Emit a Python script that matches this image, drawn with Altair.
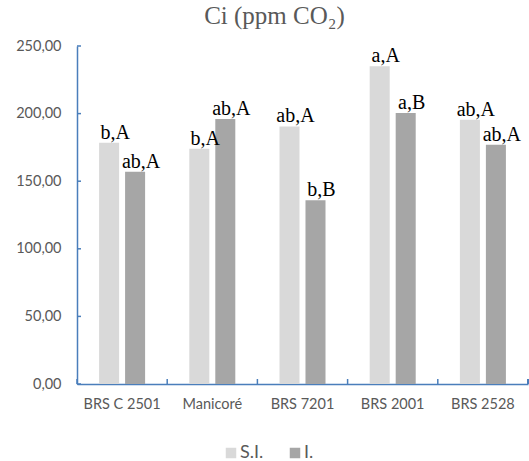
import altair as alt
import pandas as pd

# Cultivars, treatments and mean internal CO2 concentration (ppm)
cultivars = ["BRS C 2501", "Manicoré", "BRS 7201", "BRS 2001", "BRS 2528"]
treatments = ["S.I.", "I."]
ci_si = [178.5, 174.0, 190.5, 235.0, 195.5]
ci_i = [157.0, 196.0, 136.0, 200.5, 177.0]
letters_si = ["b,A", "b,A", "ab,A", "a,A", "ab,A"]
letters_i = ["ab,A", "ab,A", "b,B", "a,B", "ab,A"]
y_ticks = [0, 50, 100, 150, 200, 250]

rows = []
for c, v, l in zip(cultivars, ci_si, letters_si):
    rows.append({"cultivar": c, "trat": "S.I.", "ci": v, "letra": l})
for c, v, l in zip(cultivars, ci_i, letters_i):
    rows.append({"cultivar": c, "trat": "I.", "ci": v, "letra": l})
df = pd.DataFrame(rows)
ticks_df = pd.DataFrame({"v": y_ticks})

W, H = 451, 338
AXIS_BLUE = "#4A7EBB"
GRAY_TXT = "#595959"

x_enc = alt.X("cultivar:N", sort=cultivars, title=None,
              scale=alt.Scale(paddingInner=0, paddingOuter=0),
              axis=alt.Axis(labelAngle=0, domainColor=AXIS_BLUE, domainWidth=1.5,
                            ticks=False, labelColor=GRAY_TXT, labelFont="Lato",
                            labelFontSize=14.5, labelPadding=13))
xoff = alt.XOffset("trat:N", sort=treatments,
                   scale=alt.Scale(paddingInner=0.23, paddingOuter=0.85))
y_scale = alt.Scale(domain=[0, 250], nice=False)

bars = alt.Chart(df).mark_bar().encode(
    x=x_enc,
    xOffset=xoff,
    y=alt.Y("ci:Q", scale=y_scale, title=None,
            axis=alt.Axis(values=y_ticks, domainColor=AXIS_BLUE, domainWidth=1.5,
                          ticks=False, grid=False, labelColor=GRAY_TXT,
                          labelFont="Lato", labelFontSize=14.5, labelPadding=16,
                          labelExpr="replace(format(datum.value, '.2f'), '.', ',')")),
    color=alt.Color("trat:N", sort=treatments, title=None,
                    scale=alt.Scale(domain=treatments, range=["#D9D9D9", "#A6A6A6"]),
                    legend=alt.Legend(orient="none", legendX=145, legendY=398,
                                      direction="horizontal", symbolType="square",
                                      symbolSize=110, symbolStrokeWidth=0,
                                      labelFont="Lato", labelFontSize=18,
                                      labelColor=GRAY_TXT, columnPadding=22,
                                      labelOffset=0)),
)

labels = alt.Chart(df).mark_text(
    font="Liberation Serif", fontSize=20, color="black",
    baseline="alphabetic", dy=-4, dx=6,
).encode(
    x=alt.X("cultivar:N", sort=cultivars),
    xOffset=xoff,
    y=alt.Y("ci:Q", scale=y_scale),
    text="letra:N",
)

# inward tick marks on the value axis
y_tick_marks = alt.Chart(ticks_df).mark_rule(color=AXIS_BLUE, strokeWidth=1.5).encode(
    y=alt.Y("v:Q", scale=y_scale),
    x=alt.value(0),
    x2=alt.value(4),
)

# inward tick marks at category boundaries
cat_df = pd.DataFrame({"cultivar": cultivars})
x_tick_marks = alt.Chart(cat_df).mark_rule(color=AXIS_BLUE, strokeWidth=1.5).encode(
    x=alt.X("cultivar:N", sort=cultivars, bandPosition=0),
    y=alt.value(H - 5),
    y2=alt.value(H),
)
x_end_tick = alt.Chart(cat_df).mark_rule(color=AXIS_BLUE, strokeWidth=1.5).encode(
    x=alt.value(W),
    y=alt.value(H - 5),
    y2=alt.value(H),
)

chart = alt.layer(bars, labels, y_tick_marks, x_tick_marks, x_end_tick).properties(
    width=W,
    height=H,
    title=alt.TitleParams("Ci (ppm CO₂)", font="Liberation Serif", fontSize=25,
                          fontWeight="normal", color=GRAY_TXT, anchor="middle",
                          dx=-28, offset=9),
    autosize=alt.AutoSizeParams(type="none"),
    padding={"left": 77, "top": 46, "right": 1, "bottom": 77},
).configure_view(stroke=None)

chart.save("out.html", embed_options={"renderer": "svg", "actions": False})
